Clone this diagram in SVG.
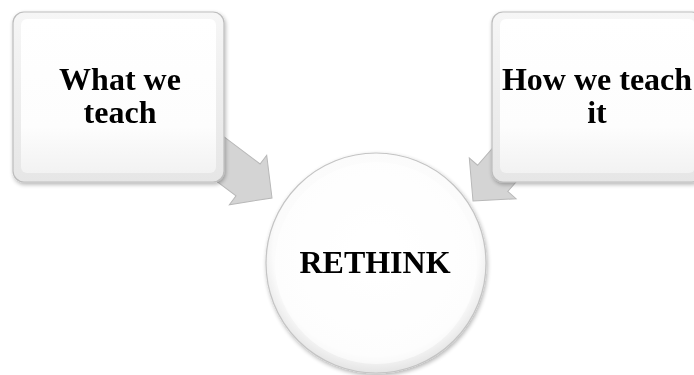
<svg xmlns="http://www.w3.org/2000/svg" width="694" height="375" viewBox="0 0 694 375">
<style>
.lbl{font-family:"Liberation Serif","Times New Roman",serif;font-weight:bold;font-size:32px;fill:#000;text-anchor:middle}
.box{fill:url(#boxg);stroke:#bdbdbd;stroke-width:1.2}
.bevel{fill:url(#bevg);stroke:none}
.arrow{fill:#d4d4d4;stroke:#b8b8b8;stroke-width:1}
</style>
<defs>
<linearGradient id="boxg" x1="0" y1="0" x2="0" y2="1">
<stop offset="0" stop-color="#f6f6f6"/>
<stop offset="1" stop-color="#e6e6e6"/>
</linearGradient>
<linearGradient id="bevg" x1="0" y1="0" x2="0" y2="1">
<stop offset="0" stop-color="#ffffff"/>
<stop offset="0.7" stop-color="#fdfdfd"/>
<stop offset="1" stop-color="#f2f2f2"/>
</linearGradient>
<radialGradient id="circg" cx="0.5" cy="0.45" r="0.55">
<stop offset="0" stop-color="#ffffff"/>
<stop offset="0.85" stop-color="#fbfbfb"/>
<stop offset="1" stop-color="#e4e4e4"/>
</radialGradient>
<filter id="sh" x="-10%" y="-10%" width="125%" height="125%">
<feGaussianBlur in="SourceAlpha" stdDeviation="2"/>
<feOffset dx="1" dy="2" result="b"/>
<feComponentTransfer><feFuncA type="linear" slope="0.3"/></feComponentTransfer>
<feMerge><feMergeNode/><feMergeNode in="SourceGraphic"/></feMerge>
</filter>
</defs>
<g id="connectors">
<path class="arrow" transform="translate(272,198) rotate(37)" d="M0,0 L-30,-31 L-30,-20 L-85,-20 L-85,20 L-30,20 L-30,31 Z"/>
<path class="arrow" transform="translate(473,201) rotate(131)" d="M0,0 L-30,-31 L-30,-20 L-85,-20 L-85,20 L-30,20 L-30,31 Z"/>
</g>
<g id="node-what" filter="url(#sh)">
<rect class="box" x="13" y="12" width="211" height="170" rx="11"/>
<rect class="bevel" x="21" y="19" width="195" height="154" rx="6"/>
<text class="lbl" x="120" y="90">What we</text>
<text class="lbl" x="120" y="123">teach</text>
</g>
<g id="node-how" filter="url(#sh)">
<rect class="box" x="492" y="12" width="211" height="170" rx="11"/>
<rect class="bevel" x="500" y="19" width="195" height="154" rx="6"/>
<text class="lbl" x="597" y="90">How we teach</text>
<text class="lbl" x="597" y="123">it</text>
</g>
<g id="node-rethink" filter="url(#sh)">
<circle cx="376" cy="263" r="110" fill="url(#circg)" stroke="#c4c4c4" stroke-width="1.2"/>
<circle cx="376" cy="263" r="101" fill="#ffffff" opacity="0.6"/>
<text class="lbl" x="375" y="273">RETHINK</text>
</g>
</svg>
